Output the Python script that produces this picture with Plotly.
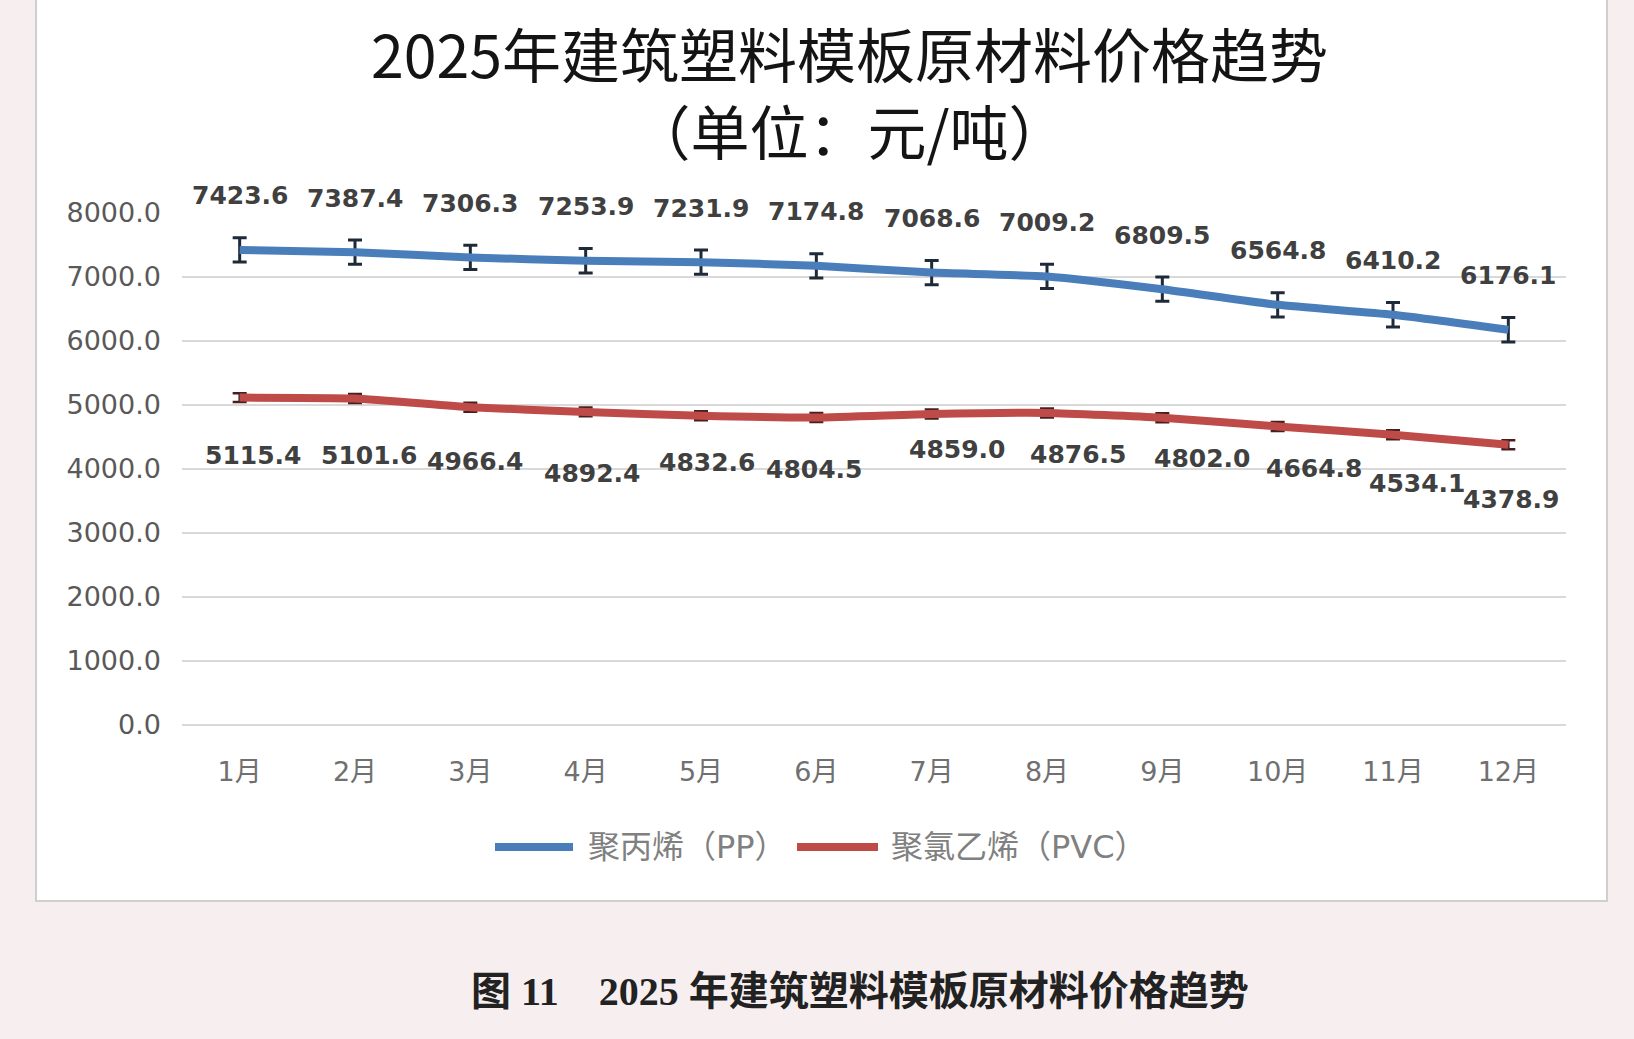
import plotly.graph_objects as go

# ---------------- data ----------------
months = ["1月", "2月", "3月", "4月", "5月", "6月", "7月", "8月", "9月", "10月", "11月", "12月"]
pp_values = [7423.6, 7387.4, 7306.3, 7253.9, 7231.9, 7174.8, 7068.6, 7009.2, 6809.5, 6564.8, 6410.2, 6176.1]
pvc_values = [5115.4, 5101.6, 4966.4, 4892.4, 4832.6, 4804.5, 4859.0, 4876.5, 4802.0, 4664.8, 4534.1, 4378.9]
pp_error = 190
pvc_error = 70
y_ticks = [0, 1000, 2000, 3000, 4000, 5000, 6000, 7000, 8000]
series_names = ["聚丙烯（PP）", "聚氯乙烯（PVC）"]
title_line1 = "2025年建筑塑料模板原材料价格趋势"
title_line2 = "（单位：元/吨）"
caption = "图 11　2025 年建筑塑料模板原材料价格趋势"

# ---------------- style / layout ----------------
W, H = 1634, 1039
PL, PR, PT, PB = 182, 1566, 213, 725
PP_COLOR = "#4A7EBB"
PVC_COLOR = "#BE4B48"
LABEL_COLOR = "#404040"
NUM_FONT = "DejaVu Sans"
CJK = "Noto Sans CJK SC"

# label placement offsets (pixels) for the PVC data labels
pvc_label_dy = [58, 57, 54, 62, 47, 52, 35, 42, 41, 42, 49, 55]
pvc_label_dx = [13, 14, 5, 6, 6, -2, 25, 31, 40, 36, 24, 3]


def px(x):
    return (x - PL) / (PR - PL)


def py(y):
    return (PB - y) / (PB - PT)


fig = go.Figure()

fig.add_trace(go.Scatter(
    x=months, y=pp_values, name=series_names[0], mode="lines",
    line=dict(color=PP_COLOR, width=8, shape="spline", smoothing=0.5),
    error_y=dict(type="constant", value=pp_error, color="#1f2a38", thickness=3, width=7),
    showlegend=False,
))
fig.add_trace(go.Scatter(
    x=months, y=pvc_values, name=series_names[1], mode="lines",
    line=dict(color=PVC_COLOR, width=8, shape="spline", smoothing=0.5),
    error_y=dict(type="constant", value=pvc_error, color="#4a1e1e", thickness=2.5, width=7),
    showlegend=False,
))

annotations = []
for m, v in zip(months, pp_values):
    annotations.append(dict(
        x=m, y=v, xref="x", yref="y", text=f"{v:.1f}", showarrow=False,
        yshift=54, yanchor="middle", xanchor="center",
        font=dict(family=NUM_FONT, size=25, color=LABEL_COLOR, weight="bold"),
    ))
for m, v, dy, dx in zip(months, pvc_values, pvc_label_dy, pvc_label_dx):
    annotations.append(dict(
        x=m, y=v, xref="x", yref="y", text=f"{v:.1f}", showarrow=False,
        yshift=-dy, xshift=dx, yanchor="middle", xanchor="center",
        font=dict(family=NUM_FONT, size=25, color=LABEL_COLOR, weight="bold"),
    ))

# title (two lines in one text block)
annotations.append(dict(
    x=px(849), y=py(91), xref="paper", yref="paper",
    text=f"{title_line1}<br>{title_line2}", showarrow=False,
    xanchor="center", yanchor="middle", align="center",
    font=dict(family=CJK, size=59, color="#141414"),
))

# legend (manual)
shapes = []
legend_y = 847
legend_items = [
    (495, 573, 586, PP_COLOR, series_names[0]),
    (797, 878, 889, PVC_COLOR, series_names[1]),
]
for x0, x1, tx, col, name in legend_items:
    shapes.append(dict(
        type="line", xref="paper", yref="paper",
        x0=px(x0), x1=px(x1), y0=py(legend_y), y1=py(legend_y),
        line=dict(color=col, width=8),
    ))
    annotations.append(dict(
        x=px(tx), y=py(legend_y), xref="paper", yref="paper", text=name, showarrow=False,
        xanchor="left", yanchor="middle",
        font=dict(family=f"{NUM_FONT}, {CJK}", size=32, color="#808080"),
    ))

# caption
annotations.append(dict(
    x=px(860), y=py(991), xref="paper", yref="paper", text=caption, showarrow=False,
    xanchor="center", yanchor="middle",
    font=dict(family=f"Liberation Serif, {CJK}", size=40, color="#222222", weight="bold"),
))

# white chart box
shapes.insert(0, dict(
    type="rect", xref="paper", yref="paper", layer="below",
    x0=px(36), x1=px(1607), y0=py(901), y1=py(-10),
    fillcolor="#ffffff", line=dict(color="#cfcfcf", width=2),
))

fig.update_layout(
    width=W, height=H,
    margin=dict(l=PL, r=W - PR, t=PT, b=H - PB, pad=0),
    paper_bgcolor="#f7efef",
    plot_bgcolor="#ffffff",
    showlegend=False,
    annotations=annotations,
    shapes=shapes,
    xaxis=dict(
        type="category", range=[-0.5, 11.5], showgrid=False, zeroline=False,
        showline=False, ticks="",
        tickfont=dict(family=f"{NUM_FONT}, {CJK}", size=27, color="#707070"),
        ticklabelstandoff=28,
    ),
    yaxis=dict(
        range=[0, 8000], tickvals=y_ticks, ticktext=[f"{t:.1f}" for t in y_ticks],
        showgrid=True, gridcolor="#d9d9d9", gridwidth=2,
        zeroline=True, zerolinecolor="#d9d9d9", zerolinewidth=2,
        showline=False, ticks="",
        tickfont=dict(family=NUM_FONT, size=27, color="#595959"),
        ticklabelstandoff=20,
    ),
)

fig.write_html("out.html")
